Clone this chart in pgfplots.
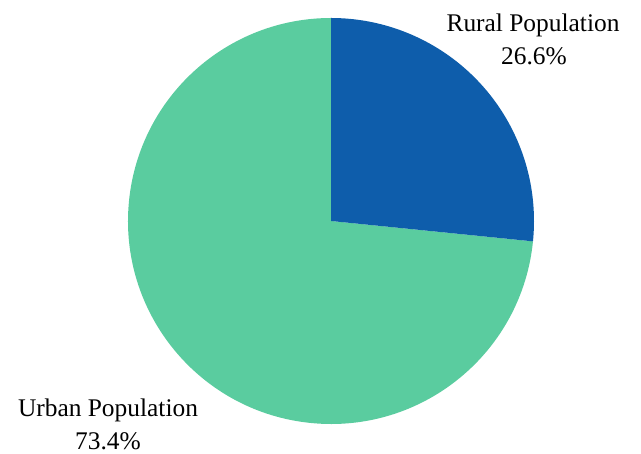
\documentclass[border=0pt]{standalone}
\usepackage{pgfplots}
\pgfplotsset{compat=1.18}
\usepackage{pgfplotstable}
\usepackage{fontspec}
\setmainfont{Liberation Serif}
\definecolor{ruralc}{HTML}{0E5DAB}
\definecolor{urbanc}{HTML}{5ACC9F}
% shares (percent)
\pgfplotstableread{
label share
Rural 26.6
Urban 73.4
}\piedata
\pgfplotstablegetelem{0}{share}\of\piedata \let\rural\pgfplotsretval
\pgfplotstablegetelem{1}{share}\of\piedata \let\urban\pgfplotsretval
\begin{document}
\begin{tikzpicture}
\begin{axis}[
  scale only axis, width=641bp, height=454bp,
  xmin=0, xmax=641, ymin=0, ymax=454,
  hide axis, clip=false,
]
\path (axis cs:0,0) rectangle (axis cs:641,454);
\pgfmathsetmacro{\ruralend}{90-3.6*\rural}
\fill[urbanc] (axis cs:331,233) -- ++(\ruralend:203bp)
  arc[start angle=\ruralend, end angle=-270, radius=203bp] -- cycle;
\fill[ruralc] (axis cs:331,233) -- ++(90:203bp)
  arc[start angle=90, end angle=\ruralend, radius=203bp] -- cycle;
\node[anchor=base, font=\fontsize{25.5}{30}\selectfont] at (axis cs:533,422) {Rural Population};
\node[anchor=base, font=\fontsize{25.5}{30}\selectfont] at (axis cs:534,389) {\rural\%};
\node[anchor=base, font=\fontsize{25.5}{30}\selectfont] at (axis cs:108,37) {Urban Population};
\node[anchor=base, font=\fontsize{25.5}{30}\selectfont] at (axis cs:108,5) {\urban\%};
\end{axis}
\end{tikzpicture}
\end{document}
